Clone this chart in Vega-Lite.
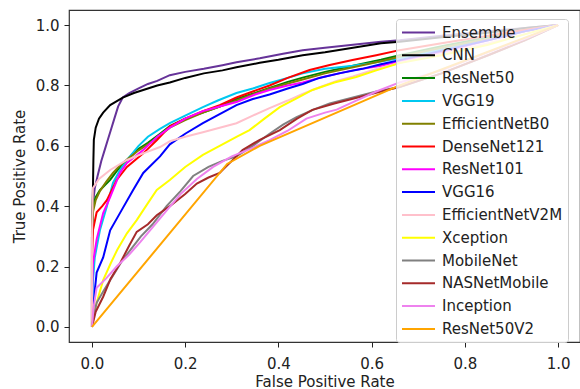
{
  "$schema": "https://vega.github.io/schema/vega-lite/v6.json",
  "width": 511,
  "height": 332,
  "autosize": {"type": "none"},
  "padding": {"left": 69, "top": 10, "right": 0, "bottom": 47},
  "background": "white",
  "config": {"view": {"stroke": "#333333", "strokeWidth": 1.2}, "font": "DejaVu Sans"},
  "datasets": {
    "roc": [
      {"model":"Ensemble","fpr":0,"tpr":0},{"model":"Ensemble","fpr":0,"tpr":0.3},{"model":"Ensemble","fpr":0.003,"tpr":0.42},{"model":"Ensemble","fpr":0.006,"tpr":0.46},{"model":"Ensemble","fpr":0.012,"tpr":0.5},{"model":"Ensemble","fpr":0.02,"tpr":0.55},{"model":"Ensemble","fpr":0.028,"tpr":0.59},{"model":"Ensemble","fpr":0.034,"tpr":0.62},{"model":"Ensemble","fpr":0.04,"tpr":0.65},{"model":"Ensemble","fpr":0.048,"tpr":0.69},{"model":"Ensemble","fpr":0.056,"tpr":0.73},{"model":"Ensemble","fpr":0.066,"tpr":0.76},{"model":"Ensemble","fpr":0.08,"tpr":0.775},{"model":"Ensemble","fpr":0.1,"tpr":0.79},{"model":"Ensemble","fpr":0.12,"tpr":0.805},{"model":"Ensemble","fpr":0.14,"tpr":0.815},{"model":"Ensemble","fpr":0.167,"tpr":0.834},{"model":"Ensemble","fpr":0.2,"tpr":0.845},{"model":"Ensemble","fpr":0.24,"tpr":0.855},{"model":"Ensemble","fpr":0.28,"tpr":0.867},{"model":"Ensemble","fpr":0.31,"tpr":0.877},{"model":"Ensemble","fpr":0.36,"tpr":0.89},{"model":"Ensemble","fpr":0.41,"tpr":0.905},{"model":"Ensemble","fpr":0.452,"tpr":0.917},{"model":"Ensemble","fpr":0.5,"tpr":0.925},{"model":"Ensemble","fpr":0.56,"tpr":0.935},{"model":"Ensemble","fpr":0.62,"tpr":0.945},{"model":"Ensemble","fpr":0.66,"tpr":0.95},{"model":"Ensemble","fpr":0.75,"tpr":0.965},{"model":"Ensemble","fpr":0.85,"tpr":0.98},{"model":"Ensemble","fpr":0.93,"tpr":0.99},{"model":"Ensemble","fpr":1,"tpr":1},

      {"model":"CNN","fpr":0,"tpr":0},{"model":"CNN","fpr":0,"tpr":0.32},{"model":"CNN","fpr":0.002,"tpr":0.45},{"model":"CNN","fpr":0.003,"tpr":0.55},{"model":"CNN","fpr":0.004,"tpr":0.62},{"model":"CNN","fpr":0.008,"tpr":0.66},{"model":"CNN","fpr":0.015,"tpr":0.69},{"model":"CNN","fpr":0.024,"tpr":0.71},{"model":"CNN","fpr":0.039,"tpr":0.735},{"model":"CNN","fpr":0.066,"tpr":0.76},{"model":"CNN","fpr":0.09,"tpr":0.775},{"model":"CNN","fpr":0.11,"tpr":0.785},{"model":"CNN","fpr":0.14,"tpr":0.8},{"model":"CNN","fpr":0.167,"tpr":0.81},{"model":"CNN","fpr":0.2,"tpr":0.825},{"model":"CNN","fpr":0.24,"tpr":0.84},{"model":"CNN","fpr":0.28,"tpr":0.85},{"model":"CNN","fpr":0.31,"tpr":0.86},{"model":"CNN","fpr":0.36,"tpr":0.875},{"model":"CNN","fpr":0.4,"tpr":0.885},{"model":"CNN","fpr":0.452,"tpr":0.9},{"model":"CNN","fpr":0.5,"tpr":0.91},{"model":"CNN","fpr":0.56,"tpr":0.925},{"model":"CNN","fpr":0.62,"tpr":0.94},{"model":"CNN","fpr":0.66,"tpr":0.945},{"model":"CNN","fpr":0.75,"tpr":0.96},{"model":"CNN","fpr":0.85,"tpr":0.975},{"model":"CNN","fpr":0.93,"tpr":0.99},{"model":"CNN","fpr":1,"tpr":1},

      {"model":"ResNet50","fpr":0,"tpr":0},{"model":"ResNet50","fpr":0,"tpr":0.3},{"model":"ResNet50","fpr":0.002,"tpr":0.4},{"model":"ResNet50","fpr":0.008,"tpr":0.43},{"model":"ResNet50","fpr":0.017,"tpr":0.453},{"model":"ResNet50","fpr":0.028,"tpr":0.47},{"model":"ResNet50","fpr":0.039,"tpr":0.487},{"model":"ResNet50","fpr":0.055,"tpr":0.52},{"model":"ResNet50","fpr":0.075,"tpr":0.553},{"model":"ResNet50","fpr":0.096,"tpr":0.586},{"model":"ResNet50","fpr":0.12,"tpr":0.61},{"model":"ResNet50","fpr":0.146,"tpr":0.64},{"model":"ResNet50","fpr":0.167,"tpr":0.665},{"model":"ResNet50","fpr":0.2,"tpr":0.69},{"model":"ResNet50","fpr":0.238,"tpr":0.71},{"model":"ResNet50","fpr":0.274,"tpr":0.73},{"model":"ResNet50","fpr":0.31,"tpr":0.755},{"model":"ResNet50","fpr":0.35,"tpr":0.775},{"model":"ResNet50","fpr":0.381,"tpr":0.792},{"model":"ResNet50","fpr":0.42,"tpr":0.812},{"model":"ResNet50","fpr":0.452,"tpr":0.826},{"model":"ResNet50","fpr":0.5,"tpr":0.845},{"model":"ResNet50","fpr":0.56,"tpr":0.865},{"model":"ResNet50","fpr":0.62,"tpr":0.885},{"model":"ResNet50","fpr":0.66,"tpr":0.9},{"model":"ResNet50","fpr":0.75,"tpr":0.93},{"model":"ResNet50","fpr":0.85,"tpr":0.96},{"model":"ResNet50","fpr":0.93,"tpr":0.985},{"model":"ResNet50","fpr":1,"tpr":1},

      {"model":"VGG19","fpr":0,"tpr":0},{"model":"VGG19","fpr":0.002,"tpr":0.15},{"model":"VGG19","fpr":0.006,"tpr":0.23},{"model":"VGG19","fpr":0.017,"tpr":0.32},{"model":"VGG19","fpr":0.032,"tpr":0.4},{"model":"VGG19","fpr":0.045,"tpr":0.477},{"model":"VGG19","fpr":0.06,"tpr":0.52},{"model":"VGG19","fpr":0.075,"tpr":0.553},{"model":"VGG19","fpr":0.1,"tpr":0.6},{"model":"VGG19","fpr":0.12,"tpr":0.63},{"model":"VGG19","fpr":0.145,"tpr":0.655},{"model":"VGG19","fpr":0.167,"tpr":0.675},{"model":"VGG19","fpr":0.2,"tpr":0.7},{"model":"VGG19","fpr":0.238,"tpr":0.728},{"model":"VGG19","fpr":0.27,"tpr":0.75},{"model":"VGG19","fpr":0.31,"tpr":0.775},{"model":"VGG19","fpr":0.345,"tpr":0.79},{"model":"VGG19","fpr":0.381,"tpr":0.808},{"model":"VGG19","fpr":0.42,"tpr":0.825},{"model":"VGG19","fpr":0.452,"tpr":0.84},{"model":"VGG19","fpr":0.5,"tpr":0.855},{"model":"VGG19","fpr":0.56,"tpr":0.865},{"model":"VGG19","fpr":0.6,"tpr":0.874},{"model":"VGG19","fpr":0.66,"tpr":0.89},{"model":"VGG19","fpr":0.75,"tpr":0.92},{"model":"VGG19","fpr":0.85,"tpr":0.955},{"model":"VGG19","fpr":0.93,"tpr":0.98},{"model":"VGG19","fpr":1,"tpr":1},

      {"model":"EfficientNetB0","fpr":0,"tpr":0},{"model":"EfficientNetB0","fpr":0,"tpr":0.3},{"model":"EfficientNetB0","fpr":0.002,"tpr":0.38},{"model":"EfficientNetB0","fpr":0.008,"tpr":0.42},{"model":"EfficientNetB0","fpr":0.017,"tpr":0.45},{"model":"EfficientNetB0","fpr":0.03,"tpr":0.48},{"model":"EfficientNetB0","fpr":0.045,"tpr":0.51},{"model":"EfficientNetB0","fpr":0.06,"tpr":0.535},{"model":"EfficientNetB0","fpr":0.08,"tpr":0.56},{"model":"EfficientNetB0","fpr":0.1,"tpr":0.585},{"model":"EfficientNetB0","fpr":0.13,"tpr":0.615},{"model":"EfficientNetB0","fpr":0.167,"tpr":0.66},{"model":"EfficientNetB0","fpr":0.2,"tpr":0.685},{"model":"EfficientNetB0","fpr":0.238,"tpr":0.71},{"model":"EfficientNetB0","fpr":0.274,"tpr":0.73},{"model":"EfficientNetB0","fpr":0.31,"tpr":0.75},{"model":"EfficientNetB0","fpr":0.381,"tpr":0.79},{"model":"EfficientNetB0","fpr":0.452,"tpr":0.82},{"model":"EfficientNetB0","fpr":0.5,"tpr":0.84},{"model":"EfficientNetB0","fpr":0.56,"tpr":0.86},{"model":"EfficientNetB0","fpr":0.62,"tpr":0.88},{"model":"EfficientNetB0","fpr":0.66,"tpr":0.895},{"model":"EfficientNetB0","fpr":0.75,"tpr":0.925},{"model":"EfficientNetB0","fpr":0.85,"tpr":0.955},{"model":"EfficientNetB0","fpr":0.93,"tpr":0.98},{"model":"EfficientNetB0","fpr":1,"tpr":1},

      {"model":"DenseNet121","fpr":0,"tpr":0},{"model":"DenseNet121","fpr":0,"tpr":0.22},{"model":"DenseNet121","fpr":0.002,"tpr":0.32},{"model":"DenseNet121","fpr":0.01,"tpr":0.38},{"model":"DenseNet121","fpr":0.022,"tpr":0.4},{"model":"DenseNet121","fpr":0.032,"tpr":0.42},{"model":"DenseNet121","fpr":0.053,"tpr":0.487},{"model":"DenseNet121","fpr":0.075,"tpr":0.53},{"model":"DenseNet121","fpr":0.11,"tpr":0.575},{"model":"DenseNet121","fpr":0.14,"tpr":0.62},{"model":"DenseNet121","fpr":0.167,"tpr":0.665},{"model":"DenseNet121","fpr":0.2,"tpr":0.69},{"model":"DenseNet121","fpr":0.238,"tpr":0.715},{"model":"DenseNet121","fpr":0.274,"tpr":0.735},{"model":"DenseNet121","fpr":0.31,"tpr":0.76},{"model":"DenseNet121","fpr":0.345,"tpr":0.78},{"model":"DenseNet121","fpr":0.381,"tpr":0.8},{"model":"DenseNet121","fpr":0.42,"tpr":0.825},{"model":"DenseNet121","fpr":0.467,"tpr":0.851},{"model":"DenseNet121","fpr":0.51,"tpr":0.868},{"model":"DenseNet121","fpr":0.559,"tpr":0.884},{"model":"DenseNet121","fpr":0.61,"tpr":0.9},{"model":"DenseNet121","fpr":0.66,"tpr":0.917},{"model":"DenseNet121","fpr":0.75,"tpr":0.94},{"model":"DenseNet121","fpr":0.85,"tpr":0.965},{"model":"DenseNet121","fpr":0.93,"tpr":0.985},{"model":"DenseNet121","fpr":1,"tpr":1},

      {"model":"ResNet101","fpr":0,"tpr":0},{"model":"ResNet101","fpr":0,"tpr":0.1},{"model":"ResNet101","fpr":0.002,"tpr":0.21},{"model":"ResNet101","fpr":0.01,"tpr":0.29},{"model":"ResNet101","fpr":0.024,"tpr":0.377},{"model":"ResNet101","fpr":0.039,"tpr":0.43},{"model":"ResNet101","fpr":0.06,"tpr":0.51},{"model":"ResNet101","fpr":0.075,"tpr":0.543},{"model":"ResNet101","fpr":0.11,"tpr":0.586},{"model":"ResNet101","fpr":0.14,"tpr":0.63},{"model":"ResNet101","fpr":0.167,"tpr":0.66},{"model":"ResNet101","fpr":0.2,"tpr":0.69},{"model":"ResNet101","fpr":0.238,"tpr":0.715},{"model":"ResNet101","fpr":0.274,"tpr":0.73},{"model":"ResNet101","fpr":0.31,"tpr":0.745},{"model":"ResNet101","fpr":0.35,"tpr":0.77},{"model":"ResNet101","fpr":0.381,"tpr":0.785},{"model":"ResNet101","fpr":0.42,"tpr":0.8},{"model":"ResNet101","fpr":0.452,"tpr":0.81},{"model":"ResNet101","fpr":0.5,"tpr":0.83},{"model":"ResNet101","fpr":0.56,"tpr":0.85},{"model":"ResNet101","fpr":0.62,"tpr":0.865},{"model":"ResNet101","fpr":0.66,"tpr":0.88},{"model":"ResNet101","fpr":0.75,"tpr":0.91},{"model":"ResNet101","fpr":0.85,"tpr":0.95},{"model":"ResNet101","fpr":0.93,"tpr":0.98},{"model":"ResNet101","fpr":1,"tpr":1},

      {"model":"VGG16","fpr":0,"tpr":0},{"model":"VGG16","fpr":0.003,"tpr":0.06},{"model":"VGG16","fpr":0.006,"tpr":0.12},{"model":"VGG16","fpr":0.01,"tpr":0.18},{"model":"VGG16","fpr":0.024,"tpr":0.23},{"model":"VGG16","fpr":0.039,"tpr":0.32},{"model":"VGG16","fpr":0.06,"tpr":0.377},{"model":"VGG16","fpr":0.088,"tpr":0.453},{"model":"VGG16","fpr":0.11,"tpr":0.51},{"model":"VGG16","fpr":0.146,"tpr":0.565},{"model":"VGG16","fpr":0.167,"tpr":0.605},{"model":"VGG16","fpr":0.2,"tpr":0.64},{"model":"VGG16","fpr":0.238,"tpr":0.675},{"model":"VGG16","fpr":0.274,"tpr":0.705},{"model":"VGG16","fpr":0.31,"tpr":0.735},{"model":"VGG16","fpr":0.345,"tpr":0.755},{"model":"VGG16","fpr":0.381,"tpr":0.77},{"model":"VGG16","fpr":0.42,"tpr":0.79},{"model":"VGG16","fpr":0.452,"tpr":0.805},{"model":"VGG16","fpr":0.488,"tpr":0.825},{"model":"VGG16","fpr":0.53,"tpr":0.84},{"model":"VGG16","fpr":0.58,"tpr":0.855},{"model":"VGG16","fpr":0.62,"tpr":0.87},{"model":"VGG16","fpr":0.66,"tpr":0.884},{"model":"VGG16","fpr":0.75,"tpr":0.915},{"model":"VGG16","fpr":0.85,"tpr":0.95},{"model":"VGG16","fpr":0.93,"tpr":0.98},{"model":"VGG16","fpr":1,"tpr":1},

      {"model":"EfficientNetV2M","fpr":0,"tpr":0},{"model":"EfficientNetV2M","fpr":0,"tpr":0.3},{"model":"EfficientNetV2M","fpr":0.002,"tpr":0.46},{"model":"EfficientNetV2M","fpr":0.015,"tpr":0.49},{"model":"EfficientNetV2M","fpr":0.039,"tpr":0.52},{"model":"EfficientNetV2M","fpr":0.075,"tpr":0.553},{"model":"EfficientNetV2M","fpr":0.11,"tpr":0.575},{"model":"EfficientNetV2M","fpr":0.146,"tpr":0.596},{"model":"EfficientNetV2M","fpr":0.167,"tpr":0.615},{"model":"EfficientNetV2M","fpr":0.2,"tpr":0.63},{"model":"EfficientNetV2M","fpr":0.238,"tpr":0.645},{"model":"EfficientNetV2M","fpr":0.274,"tpr":0.66},{"model":"EfficientNetV2M","fpr":0.31,"tpr":0.675},{"model":"EfficientNetV2M","fpr":0.345,"tpr":0.7},{"model":"EfficientNetV2M","fpr":0.381,"tpr":0.725},{"model":"EfficientNetV2M","fpr":0.42,"tpr":0.75},{"model":"EfficientNetV2M","fpr":0.452,"tpr":0.772},{"model":"EfficientNetV2M","fpr":0.49,"tpr":0.795},{"model":"EfficientNetV2M","fpr":0.525,"tpr":0.815},{"model":"EfficientNetV2M","fpr":0.56,"tpr":0.83},{"model":"EfficientNetV2M","fpr":0.6,"tpr":0.85},{"model":"EfficientNetV2M","fpr":0.66,"tpr":0.875},{"model":"EfficientNetV2M","fpr":0.75,"tpr":0.905},{"model":"EfficientNetV2M","fpr":0.85,"tpr":0.94},{"model":"EfficientNetV2M","fpr":0.93,"tpr":0.97},{"model":"EfficientNetV2M","fpr":1,"tpr":1},

      {"model":"Xception","fpr":0,"tpr":0},{"model":"Xception","fpr":0.002,"tpr":0.033},{"model":"Xception","fpr":0.01,"tpr":0.08},{"model":"Xception","fpr":0.024,"tpr":0.155},{"model":"Xception","fpr":0.04,"tpr":0.21},{"model":"Xception","fpr":0.054,"tpr":0.255},{"model":"Xception","fpr":0.075,"tpr":0.31},{"model":"Xception","fpr":0.096,"tpr":0.354},{"model":"Xception","fpr":0.12,"tpr":0.41},{"model":"Xception","fpr":0.139,"tpr":0.454},{"model":"Xception","fpr":0.167,"tpr":0.487},{"model":"Xception","fpr":0.2,"tpr":0.53},{"model":"Xception","fpr":0.238,"tpr":0.57},{"model":"Xception","fpr":0.274,"tpr":0.6},{"model":"Xception","fpr":0.31,"tpr":0.63},{"model":"Xception","fpr":0.338,"tpr":0.652},{"model":"Xception","fpr":0.37,"tpr":0.69},{"model":"Xception","fpr":0.403,"tpr":0.728},{"model":"Xception","fpr":0.44,"tpr":0.758},{"model":"Xception","fpr":0.473,"tpr":0.785},{"model":"Xception","fpr":0.52,"tpr":0.81},{"model":"Xception","fpr":0.567,"tpr":0.828},{"model":"Xception","fpr":0.61,"tpr":0.85},{"model":"Xception","fpr":0.66,"tpr":0.874},{"model":"Xception","fpr":0.75,"tpr":0.9},{"model":"Xception","fpr":0.85,"tpr":0.935},{"model":"Xception","fpr":0.93,"tpr":0.97},{"model":"Xception","fpr":1,"tpr":1},

      {"model":"MobileNet","fpr":0,"tpr":0},{"model":"MobileNet","fpr":0.003,"tpr":0.03},{"model":"MobileNet","fpr":0.01,"tpr":0.08},{"model":"MobileNet","fpr":0.025,"tpr":0.12},{"model":"MobileNet","fpr":0.045,"tpr":0.17},{"model":"MobileNet","fpr":0.065,"tpr":0.22},{"model":"MobileNet","fpr":0.085,"tpr":0.26},{"model":"MobileNet","fpr":0.105,"tpr":0.3},{"model":"MobileNet","fpr":0.13,"tpr":0.34},{"model":"MobileNet","fpr":0.16,"tpr":0.4},{"model":"MobileNet","fpr":0.19,"tpr":0.45},{"model":"MobileNet","fpr":0.217,"tpr":0.5},{"model":"MobileNet","fpr":0.25,"tpr":0.53},{"model":"MobileNet","fpr":0.28,"tpr":0.55},{"model":"MobileNet","fpr":0.31,"tpr":0.565},{"model":"MobileNet","fpr":0.345,"tpr":0.6},{"model":"MobileNet","fpr":0.381,"tpr":0.64},{"model":"MobileNet","fpr":0.41,"tpr":0.67},{"model":"MobileNet","fpr":0.439,"tpr":0.695},{"model":"MobileNet","fpr":0.475,"tpr":0.72},{"model":"MobileNet","fpr":0.51,"tpr":0.74},{"model":"MobileNet","fpr":0.56,"tpr":0.76},{"model":"MobileNet","fpr":0.61,"tpr":0.78},{"model":"MobileNet","fpr":0.66,"tpr":0.795},{"model":"MobileNet","fpr":0.75,"tpr":0.84},{"model":"MobileNet","fpr":0.85,"tpr":0.9},{"model":"MobileNet","fpr":0.93,"tpr":0.95},{"model":"MobileNet","fpr":1,"tpr":1},

      {"model":"NASNetMobile","fpr":0,"tpr":0},{"model":"NASNetMobile","fpr":0.008,"tpr":0.05},{"model":"NASNetMobile","fpr":0.024,"tpr":0.1},{"model":"NASNetMobile","fpr":0.04,"tpr":0.16},{"model":"NASNetMobile","fpr":0.06,"tpr":0.21},{"model":"NASNetMobile","fpr":0.08,"tpr":0.27},{"model":"NASNetMobile","fpr":0.096,"tpr":0.315},{"model":"NASNetMobile","fpr":0.12,"tpr":0.34},{"model":"NASNetMobile","fpr":0.139,"tpr":0.37},{"model":"NASNetMobile","fpr":0.167,"tpr":0.4},{"model":"NASNetMobile","fpr":0.2,"tpr":0.44},{"model":"NASNetMobile","fpr":0.225,"tpr":0.475},{"model":"NASNetMobile","fpr":0.25,"tpr":0.495},{"model":"NASNetMobile","fpr":0.274,"tpr":0.51},{"model":"NASNetMobile","fpr":0.3,"tpr":0.55},{"model":"NASNetMobile","fpr":0.323,"tpr":0.586},{"model":"NASNetMobile","fpr":0.36,"tpr":0.62},{"model":"NASNetMobile","fpr":0.403,"tpr":0.652},{"model":"NASNetMobile","fpr":0.44,"tpr":0.69},{"model":"NASNetMobile","fpr":0.473,"tpr":0.719},{"model":"NASNetMobile","fpr":0.52,"tpr":0.74},{"model":"NASNetMobile","fpr":0.57,"tpr":0.76},{"model":"NASNetMobile","fpr":0.62,"tpr":0.78},{"model":"NASNetMobile","fpr":0.66,"tpr":0.795},{"model":"NASNetMobile","fpr":0.75,"tpr":0.84},{"model":"NASNetMobile","fpr":0.85,"tpr":0.9},{"model":"NASNetMobile","fpr":0.93,"tpr":0.95},{"model":"NASNetMobile","fpr":1,"tpr":1},

      {"model":"Inception","fpr":0,"tpr":0},{"model":"Inception","fpr":0.003,"tpr":0.06},{"model":"Inception","fpr":0.01,"tpr":0.13},{"model":"Inception","fpr":0.03,"tpr":0.16},{"model":"Inception","fpr":0.053,"tpr":0.2},{"model":"Inception","fpr":0.08,"tpr":0.24},{"model":"Inception","fpr":0.103,"tpr":0.28},{"model":"Inception","fpr":0.13,"tpr":0.33},{"model":"Inception","fpr":0.16,"tpr":0.385},{"model":"Inception","fpr":0.19,"tpr":0.44},{"model":"Inception","fpr":0.225,"tpr":0.49},{"model":"Inception","fpr":0.26,"tpr":0.53},{"model":"Inception","fpr":0.3,"tpr":0.565},{"model":"Inception","fpr":0.34,"tpr":0.59},{"model":"Inception","fpr":0.381,"tpr":0.619},{"model":"Inception","fpr":0.42,"tpr":0.65},{"model":"Inception","fpr":0.46,"tpr":0.69},{"model":"Inception","fpr":0.5,"tpr":0.71},{"model":"Inception","fpr":0.525,"tpr":0.72},{"model":"Inception","fpr":0.56,"tpr":0.745},{"model":"Inception","fpr":0.61,"tpr":0.78},{"model":"Inception","fpr":0.66,"tpr":0.81},{"model":"Inception","fpr":0.75,"tpr":0.85},{"model":"Inception","fpr":0.85,"tpr":0.91},{"model":"Inception","fpr":0.93,"tpr":0.955},{"model":"Inception","fpr":1,"tpr":1},

      {"model":"ResNet50V2","fpr":0,"tpr":0},{"model":"ResNet50V2","fpr":0.29,"tpr":0.54},{"model":"ResNet50V2","fpr":0.36,"tpr":0.6},{"model":"ResNet50V2","fpr":0.66,"tpr":0.8},{"model":"ResNet50V2","fpr":1,"tpr":1}
    ]
  },
  "data": {"name": "roc"},
  "mark": {"type": "line", "strokeWidth": 2, "clip": true},
  "encoding": {
    "x": {
      "field": "fpr", "type": "quantitative",
      "scale": {"domain": [-0.0493, 1.0471], "nice": false, "zero": false},
      "axis": {
        "values": [0, 0.2, 0.4, 0.6, 0.8, 1.0], "format": ".1f",
        "title": "False Positive Rate", "grid": false, "domain": false,
        "tickSize": 5, "tickColor": "#222222", "tickWidth": 1,
        "labelFont": "DejaVu Sans", "labelFontSize": 15, "labelColor": "#222222",
        "labelBaseline": "alphabetic", "labelPadding": 21,
        "titleFont": "DejaVu Sans", "titleFontSize": 15, "titleFontWeight": "normal", "titleColor": "#222222",
        "titleBaseline": "alphabetic", "titleY": 44
      }
    },
    "y": {
      "field": "tpr", "type": "quantitative",
      "scale": {"domain": [-0.05, 1.05], "nice": false, "zero": false},
      "axis": {
        "values": [0, 0.2, 0.4, 0.6, 0.8, 1.0], "format": ".1f",
        "title": "True Positive Rate", "grid": false, "domain": false,
        "tickSize": 5, "tickColor": "#222222", "tickWidth": 1,
        "labelFont": "DejaVu Sans", "labelFontSize": 15, "labelColor": "#222222", "labelPadding": 5,
        "titleFont": "DejaVu Sans", "titleFontSize": 15, "titleFontWeight": "normal", "titleColor": "#222222",
        "titleBaseline": "alphabetic", "titleX": -45
      }
    },
    "color": {
      "field": "model", "type": "nominal",
      "scale": {
        "domain": ["Ensemble","CNN","ResNet50","VGG19","EfficientNetB0","DenseNet121","ResNet101","VGG16","EfficientNetV2M","Xception","MobileNet","NASNetMobile","Inception","ResNet50V2"],
        "range": ["#663399","#000000","#008000","#00c8f0","#808000","#ff0000","#ff00ff","#0000ff","#ffc0cb","#ffff00","#808080","#a52a2a","#ee82ee","#ffa500"]
      },
      "legend": {
        "title": null, "orient": "none", "legendX": 327, "legendY": 9,
        "symbolType": "M-1,0H3.4", "symbolSize": 225, "symbolStrokeWidth": 2,
        "labelFont": "DejaVu Sans", "labelFontSize": 15, "labelColor": "#222222", "labelLimit": 250,
        "labelOffset": 24, "rowPadding": 5.8, "padding": 5,
        "fillColor": "rgba(255,255,255,0.8)", "strokeColor": "#cccccc", "cornerRadius": 3
      }
    },
    "order": [{"field": "fpr", "type": "quantitative"}, {"field": "tpr", "type": "quantitative"}]
  }
}
